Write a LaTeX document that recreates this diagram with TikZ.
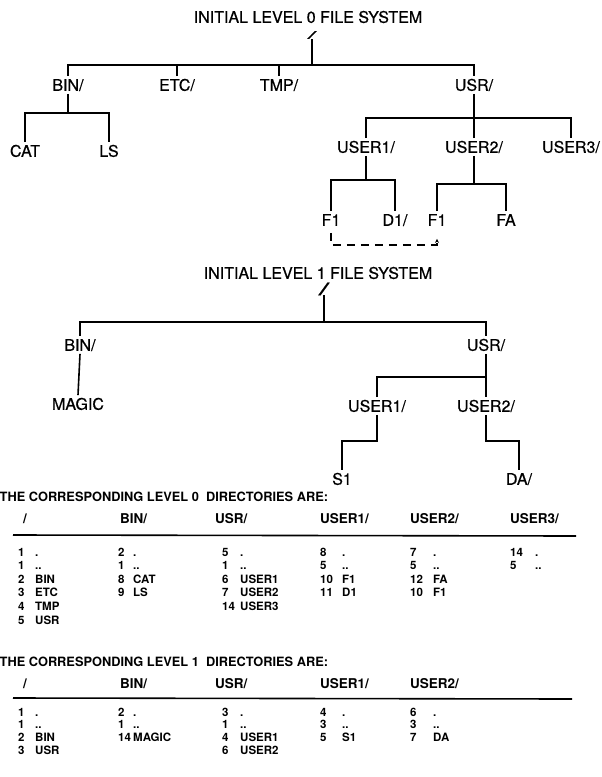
\documentclass[tikz,border=0pt]{standalone}
\usepackage{fontspec}
\usepackage{graphicx}
\setmainfont{TeX Gyre Heros}
\newfontfamily\treefont[FakeBold=0.6]{TeX Gyre Heros}
\usetikzlibrary{arrows.meta}
\tikzset{
  lbl/.style={font=\treefont\fontsize{16}{19}\selectfont, text height=11.5pt, text depth=0pt, inner sep=3pt},
  ttl/.style={font=\treefont\fontsize{16}{19}\selectfont, inner sep=0pt},
  edge/.style={line width=1.6pt, line join=miter},
  link/.style={line width=1.6pt, dash pattern=on 8pt off 6pt, -{Stealth[length=4pt,width=4pt]}},
  tblttl/.style={font=\bfseries\fontsize{12.8}{15}\selectfont, anchor=base west, inner sep=0pt},
  thdr/.style={font=\bfseries\fontsize{13.5}{16}\selectfont, anchor=base west, inner sep=0pt},
  cell/.style={font=\bfseries\fontsize{11.5}{14}\selectfont, anchor=base west, inner sep=0pt},
  tblrule/.style={line width=1.6pt},
}
\newcommand\dircol[6]{%
  \foreach \dnum/\dnam [count=\i from 0] in {#6}{
    \node[cell] (#1n\i) at (#2,{#4+\i*#5}) {\dnum};
    \node[cell] (#1m\i) at (#3,{#4+\i*#5}) {\dnam};
  }}
\begin{document}
\begin{tikzpicture}[x=1pt,y=-1pt]
\fill[white] (0,0) rectangle (602,777);
\useasboundingbox (0,0) rectangle (602,777);

% ---------------- Level 0 tree ----------------
\node[ttl] (t0) at (308,17) {INITIAL LEVEL 0 FILE SYSTEM};
\node[ttl] (s0) at (312,35) {\scalebox{2}[0.65]{/}};
\node[lbl] (bin0) at (68,85) {BIN/};
\node[lbl] (etc0) at (177,85) {ETC/};
\node[lbl] (tmp0) at (279,85) {TMP/};
\node[lbl] (usr0) at (474,85) {USR/};
\node[lbl] (cat0) at (25,151) {CAT};
\node[lbl] (ls0) at (109,151) {LS};
\node[lbl] (u1) at (366,147) {USER1/};
\node[lbl] (u2) at (474,147) {USER2/};
\node[lbl] (u3) at (571,147) {USER3/};
\node[lbl] (f1a) at (331,220) {F1};
\node[lbl] (d1) at (395,220) {D1/};
\node[lbl] (f1b) at (437,220) {F1};
\node[lbl] (fa) at (506,220) {FA};

\coordinate (j0) at (313,65);
\coordinate (j0b) at (0,113);
\coordinate (j0c) at (0,118);
\coordinate (j0d) at (0,180);
\coordinate (j0e) at (0,184);
\coordinate (j0f) at (0,245);

\draw[edge] (s0.south) -- (s0.south |- j0);
\draw[edge] (bin0.north) |- (j0) -| (usr0.north);
\draw[edge] (etc0.north) -- (etc0.north |- j0);
\draw[edge] (tmp0.north) -- (tmp0.north |- j0);
\draw[edge] (bin0.south) -- (bin0.south |- j0b);
\draw[edge] (cat0.north) |- (ls0.north |- j0b) -- (ls0.north);
\draw[edge] (usr0.south) -- (usr0.south |- j0c);
\draw[edge] (u1.north) |- (u3.north |- j0c) -- (u3.north);
\draw[edge] (u2.north) -- (u2.north |- j0c);
\draw[edge] (u1.south) -- (u1.south |- j0d);
\draw[edge] (f1a.north) |- (d1.north |- j0d) -- (d1.north);
\draw[edge] (u2.south) -- (u2.south |- j0e);
\draw[edge] (f1b.north) |- (fa.north |- j0e) -- (fa.north);
\draw[link] ([yshift=-4pt]f1a.south) |- (f1b.south |- j0f) -- ([yshift=-10pt]f1b.south);

% ---------------- Level 1 tree ----------------
\node[ttl] (t1) at (318,273) {INITIAL LEVEL 1 FILE SYSTEM};
\node[ttl] (s1r) at (324,289) {\scalebox{2.4}[1.05]{/}};
\node[lbl] (bin1) at (80,345) {BIN/};
\node[lbl] (usr1) at (486,345) {USR/};
\node[lbl] (magic) at (78,404) {MAGIC};
\node[lbl] (v1) at (377,406) {USER1/};
\node[lbl] (v2) at (486,406) {USER2/};
\node[lbl] (s1) at (342,479) {S1};
\node[lbl] (da) at (519,479) {DA/};

\coordinate (j1) at (323,322);
\coordinate (j1b) at (0,377);
\coordinate (j1c) at (0,441);

\draw[edge] (s1r.south) -- (s1r.south |- j1);
\draw[edge] (bin1.north) |- (j1) -| (usr1.north);
\draw[edge] (bin1.south) -- (magic.north);
\draw[edge] (usr1.south) -- (v2.north);
\draw[edge] (v1.north) |- (usr1.south |- j1b);
\draw[edge] (v1.south) -- (v1.south |- j1c) -| (s1.north);
\draw[edge] (v2.south) -- (v2.south |- j1c) -| (da.north);

% ---------------- Level 0 directories ----------------
\node[tblttl] (h0) at (-0.5,501.6) {THE CORRESPONDING LEVEL 0\ \ DIRECTORIES ARE:};
\node[thdr] (h0a) at (23,523) {/};
\node[thdr] (h0b) at (120,523) {BIN/};
\node[thdr] (h0c) at (215,523) {USR/};
\node[thdr] (h0d) at (320,523) {USER1/};
\node[thdr] (h0e) at (410,523) {USER2/};
\node[thdr] (h0f) at (510,523) {USER3/};
\draw[tblrule] (13,535) -- (576,536);
\dircol{a0}{18}{35}{556}{13.6}{1/{.},1/{..},2/BIN,3/ETC,4/TMP,5/USR}
\dircol{b0}{118}{133}{556}{13.6}{2/{.},1/{..},8/CAT,9/LS}
\dircol{c0}{222}{240}{556}{13.6}{5/{.},1/{..},6/USER1,7/USER2,14/USER3}
\dircol{d0}{320}{342}{556}{13.6}{8/{.},5/{..},10/F1,11/D1}
\dircol{e0}{410}{433}{556}{13.6}{7/{.},5/{..},12/FA,10/F1}
\dircol{f0}{510}{535}{556}{13.6}{14/{.},5/{..}}

% ---------------- Level 1 directories ----------------
\node[tblttl] (h1) at (-0.5,666.6) {THE CORRESPONDING LEVEL 1\ \ DIRECTORIES ARE:};
\node[thdr] (h1a) at (23,688) {/};
\node[thdr] (h1b) at (120,688) {BIN/};
\node[thdr] (h1c) at (215,688) {USR/};
\node[thdr] (h1d) at (320,688) {USER1/};
\node[thdr] (h1e) at (410,688) {USER2/};
\draw[tblrule] (13,698) -- (572,699);
\dircol{a1}{18}{35}{716}{12.7}{1/{.},1/{..},2/BIN,3/USR}
\dircol{b1}{118}{133}{716}{12.7}{2/{.},1/{..},14/MAGIC}
\dircol{c1}{222}{240}{716}{12.7}{3/{.},1/{..},4/USER1,6/USER2}
\dircol{d1}{320}{342}{716}{12.7}{4/{.},3/{..},5/S1}
\dircol{e1}{410}{433}{716}{12.7}{6/{.},3/{..},7/DA}
\end{tikzpicture}
\end{document}
